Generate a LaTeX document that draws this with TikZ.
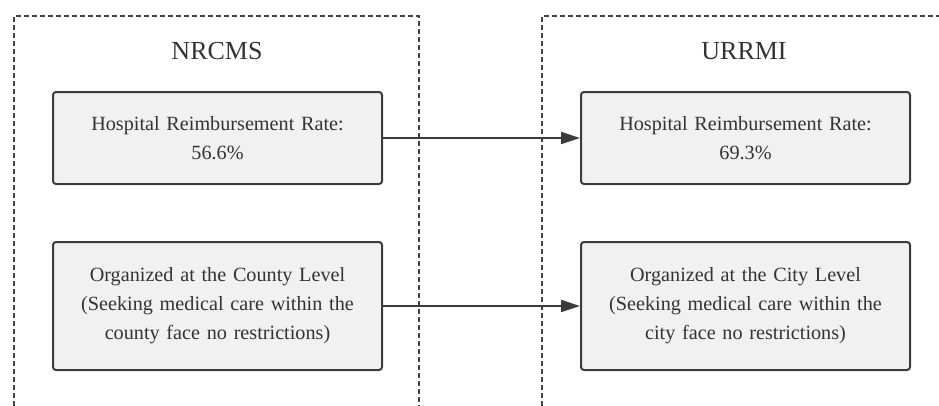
\documentclass[tikz,border=0pt]{standalone}
\usepackage{fontspec}
\setmainfont{Liberation Serif}
\usetikzlibrary{arrows.meta}
\definecolor{boxfill}{HTML}{F1F1F1}
\definecolor{boxline}{HTML}{3C3C3C}
\definecolor{txt}{HTML}{333333}
\definecolor{frame}{HTML}{444444}
\begin{document}
\begin{tikzpicture}[x=1pt,y=-1pt,
  infobox/.style={draw=boxline, fill=boxfill, line width=2pt, rounded corners=3pt,
    minimum width=329pt, text width=320pt, align=center, text=txt,
    font=\fontsize{20.2}{29}\selectfont, inner sep=0pt},
  grouptitle/.style={text=txt, font=\fontsize{26}{30}\selectfont, inner sep=0pt},
  groupframe/.style={draw=frame, line width=1.3pt, dash pattern=on 5pt off 3pt},
  link/.style={draw=boxline, line width=1.8pt, -{Triangle[length=19pt,width=12pt]}}]
\useasboundingbox (0,0) rectangle (939,405);
\clip (0,0) rectangle (939,405);
% dashed group frames (open past the lower and right edges)
\draw[groupframe] (14,430) -- (14,16) -- (419,16) -- (419,430);
\draw[groupframe] (542,430) -- (542,16) -- (960,16);
% group titles
\node[grouptitle] (tl) at (217,51) {NRCMS};
\node[grouptitle] (tr) at (744,51) {URRMI};
% boxes
\node[infobox, minimum height=92pt] (a1) at (217.5,138) {Hospital Reimbursement Rate:\\56.6\%};
\node[infobox, minimum height=92pt] (b1) at (745.5,138) {Hospital Reimbursement Rate:\\69.3\%};
\node[infobox, minimum height=128pt] (a2) at (217.5,306) {Organized at the County Level\\(Seeking medical care within the\\county face no restrictions)};
\node[infobox, minimum height=128pt] (b2) at (745.5,306) {Organized at the City Level\\(Seeking medical care within the\\city face no restrictions)};
% connectors
\draw[link] (a1.east) -- (b1.west);
\draw[link] (a2.east) -- (b2.west);
\end{tikzpicture}
\end{document}
